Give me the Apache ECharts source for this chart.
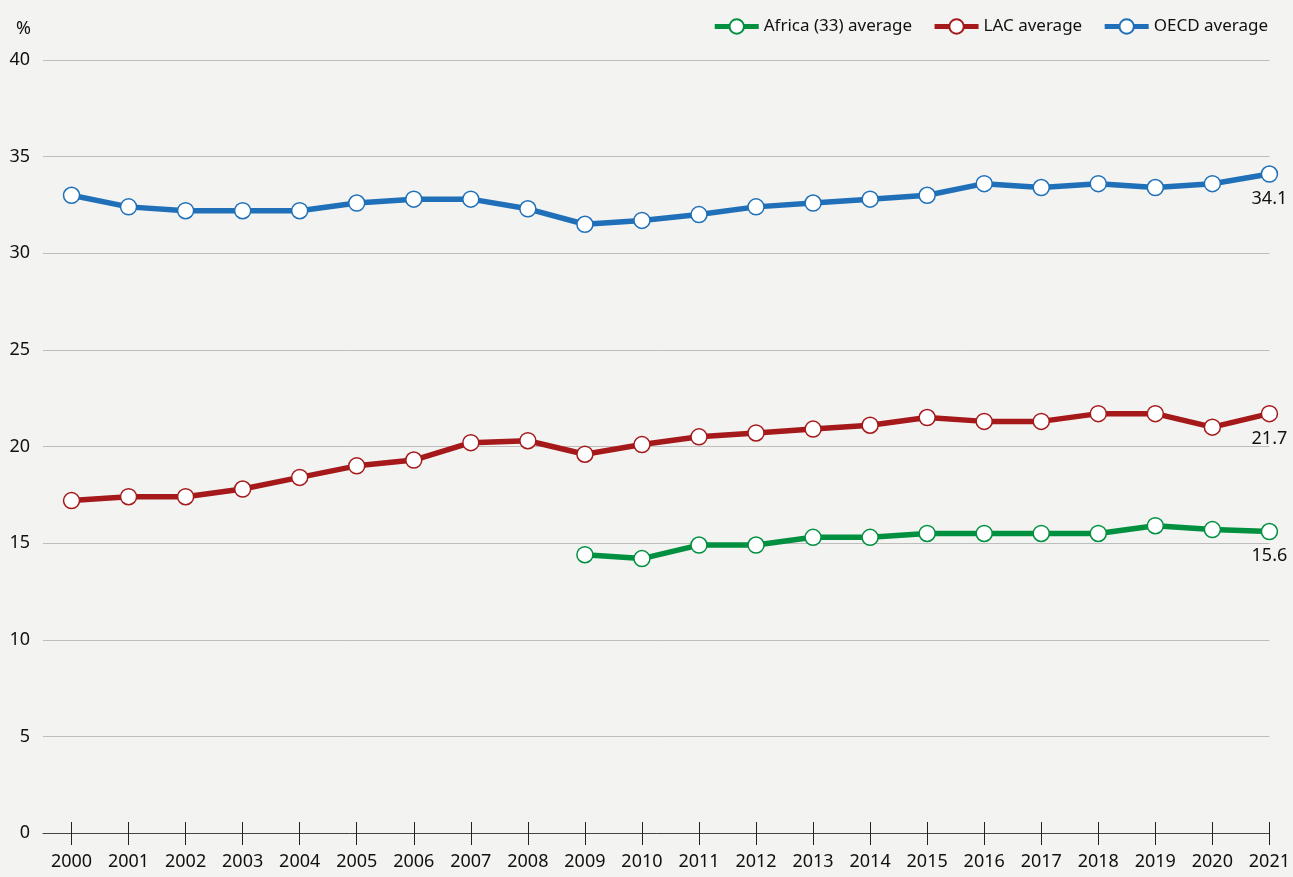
<!DOCTYPE html>
<html>
<head>
<meta charset="utf-8">
<script src="https://cdn.jsdelivr.net/npm/echarts@6/dist/echarts.min.js"></script>
<style>
  html, body { margin: 0; padding: 0; background: #f3f3f1; }
  #chart { width: 1293px; height: 877px; }
</style>
</head>
<body>
<div id="chart"></div>
<script>
var years = [2000, 2001, 2002, 2003, 2004, 2005, 2006, 2007, 2008, 2009, 2010,
             2011, 2012, 2013, 2014, 2015, 2016, 2017, 2018, 2019, 2020, 2021];
var africa = [null, null, null, null, null, null, null, null, null,
              14.4, 14.2, 14.9, 14.9, 15.3, 15.3, 15.5, 15.5, 15.5, 15.5, 15.9, 15.7, 15.6];
var lac = [17.2, 17.4, 17.4, 17.8, 18.4, 19.0, 19.3, 20.2, 20.3, 19.6, 20.1,
           20.5, 20.7, 20.9, 21.1, 21.5, 21.3, 21.3, 21.7, 21.7, 21.0, 21.7];
var oecd = [33.0, 32.4, 32.2, 32.2, 32.2, 32.6, 32.8, 32.8, 32.3, 31.5, 31.7,
            32.0, 32.4, 32.6, 32.8, 33.0, 33.6, 33.4, 33.6, 33.4, 33.6, 34.1];
var seriesNames = ['Africa (33) average', 'LAC average', 'OECD average'];
var colors = ['#00903f', '#a5191b', '#1f70b8'];

var font = "'Noto Sans', sans-serif";

function pairs(vals) {
    return years.map(function (y, i) {
        var item = { value: [y, vals[i]] };
        if (i === years.length - 1) {
            item.label = {
                show: true, position: 'bottom', distance: 7,
                color: '#111', fontSize: 18, fontFamily: font,
                formatter: function (p) { return p.value[1].toFixed(1); }
            };
        }
        return item;
    });
}

function makeSeries(name, vals, color) {
    return {
        name: name,
        type: 'line',
        xAxisIndex: 0,
        data: pairs(vals),
        symbol: 'circle',
        symbolSize: 16,
        showSymbol: true,
        connectNulls: false,
        lineStyle: { width: 5.5, color: color },
        itemStyle: { color: '#ffffff', borderColor: color, borderWidth: 1.5 },
        emphasis: { disabled: true },
        z: 3
    };
}

var myChart = echarts.init(document.getElementById('chart'));
var option = {
    backgroundColor: '#f3f3f1',
    animation: false,
    legend: {
        top: 13,
        right: 20,
        itemWidth: 44,
        itemHeight: 18,
        itemGap: 20,
        lineStyle: { width: 5 },
        textStyle: { fontSize: 17, color: '#111', fontFamily: font },
        data: seriesNames
    },
    grid: { left: 43, right: 19, top: 60, bottom: 44, containLabel: false },
    xAxis: [{
        type: 'value',
        min: 1999.5,
        max: 2021,
        splitLine: { show: false },
        axisLine: { show: true, lineStyle: { color: '#444', width: 1 } },
        axisTick: { show: true, length: 12, customValues: years, lineStyle: { color: '#222', width: 1 } },
        axisLabel: {
            customValues: years, margin: 20,
            color: '#111', fontSize: 18, fontFamily: font,
            formatter: function (v) { return String(v); }
        }
    }, {
        type: 'value',
        min: 1999.5,
        max: 2021,
        position: 'bottom',
        splitLine: { show: false },
        axisLine: { show: false },
        axisTick: { show: true, inside: true, length: 11, customValues: years, lineStyle: { color: '#222', width: 1 } },
        axisLabel: { show: false }
    }],
    yAxis: {
        type: 'value',
        min: 0,
        max: 40,
        interval: 5,
        name: '%',
        nameLocation: 'end',
        nameGap: 22,
        nameTextStyle: { color: '#111', fontSize: 18, fontFamily: font, align: 'right', padding: [0, 12, 0, 0] },
        axisLine: { show: false },
        axisTick: { show: false },
        axisLabel: { color: '#111', fontSize: 18, fontFamily: font, margin: 13 },
        splitLine: { lineStyle: { color: '#bdbdbd', width: 1 } }
    },
    series: [
        makeSeries(seriesNames[0], africa, colors[0]),
        makeSeries(seriesNames[1], lac, colors[1]),
        makeSeries(seriesNames[2], oecd, colors[2])
    ]
};
myChart.setOption(option);
window.addEventListener('resize', function () { myChart.resize(); });
</script>
</body>
</html>
